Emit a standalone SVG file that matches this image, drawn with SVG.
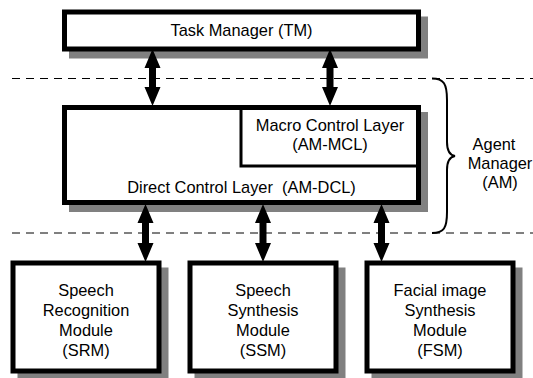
<svg xmlns="http://www.w3.org/2000/svg" width="533" height="378" viewBox="0 0 533 378">
<style>
.shadow{fill:#808080;stroke:none}
.box{fill:#fff;stroke:#000;stroke-width:5}
.inner{fill:none;stroke:#000;stroke-width:3}
.dash{fill:none;stroke:#000;stroke-width:1;stroke-dasharray:8 6}
.arrow{fill:#000;stroke:none}
.brace{fill:none;stroke:#000;stroke-width:2}
text{font-family:"Liberation Sans",Arial,sans-serif;font-size:16.4px;fill:#000;text-anchor:middle}
</style>
<rect width="533" height="378" fill="#fff"/>
<g id="layers">
<line class="dash" x1="12" y1="78.5" x2="533" y2="78.5"/>
<line class="dash" x1="12" y1="233" x2="533" y2="233"/>
</g>
<g id="tm">
<rect class="shadow" x="69" y="16.5" width="359" height="42"/>
<rect class="box" x="64.5" y="12" width="354" height="37"/>
<text x="241.5" y="36">Task Manager (TM)</text>
</g>
<g id="am">
<rect class="shadow" x="69" y="112" width="359" height="100"/>
<rect class="box" x="64.5" y="107.5" width="354" height="95"/>
<g id="am-mcl">
<path class="inner" d="M241,110 V166 H419"/>
<text x="330" y="131">Macro Control Layer</text>
<text x="330" y="150">(AM-MCL)</text>
</g>
<text id="am-dcl" x="241.5" y="193" xml:space="preserve">Direct Control Layer  (AM-DCL)</text>
</g>
<g id="agent-manager">
<path class="brace" d="M432,78.5 C444,78.5 447,84 447,100 L447,142 C447,150 449,155 455,156 C449,157 447,162 447,170 L447,212 C447,228 444,233 432,233"/>
<text x="494" y="150">Agent</text>
<text x="500" y="169">Manager</text>
<text x="500" y="188">(AM)</text>
</g>
<g id="srm">
<rect class="shadow" x="17.5" y="267.5" width="151" height="113"/>
<rect class="box" x="13" y="263" width="146" height="108"/>
<text x="86" y="296">Speech</text>
<text x="86" y="316">Recognition</text>
<text x="86" y="336">Module</text>
<text x="86" y="356">(SRM)</text>
</g>
<g id="ssm">
<rect class="shadow" x="194.5" y="267.5" width="151" height="113"/>
<rect class="box" x="190" y="263" width="146" height="108"/>
<text x="263" y="296">Speech</text>
<text x="263" y="316">Synthesis</text>
<text x="263" y="336">Module</text>
<text x="263" y="356">(SSM)</text>
</g>
<g id="fsm">
<rect class="shadow" x="371.5" y="267.5" width="151" height="113"/>
<rect class="box" x="367" y="263" width="146" height="108"/>
<text x="440" y="296">Facial image</text>
<text x="440" y="316">Synthesis</text>
<text x="440" y="336">Module</text>
<text x="440" y="356">(FSM)</text>
</g>
<g id="connectors">
<polygon class="arrow" points="152.5,49 160.5,68 156,68 156,87 160.5,87 152.5,106 144.5,87 149,87 149,68 144.5,68"/>
<polygon class="arrow" points="330,49 338,68 333.5,68 333.5,87 338,87 330,106 322,87 326.5,87 326.5,68 322,68"/>
<polygon class="arrow" points="145.5,204 153.5,223 149,223 149,243 153.5,243 145.5,262 137.5,243 142,243 142,223 137.5,223"/>
<polygon class="arrow" points="263,204 271,223 266.5,223 266.5,243 271,243 263,262 255,243 259.5,243 259.5,223 255,223"/>
<polygon class="arrow" points="381.5,204 389.5,223 385,223 385,243 389.5,243 381.5,262 373.5,243 378,243 378,223 373.5,223"/>
</g>
</svg>
